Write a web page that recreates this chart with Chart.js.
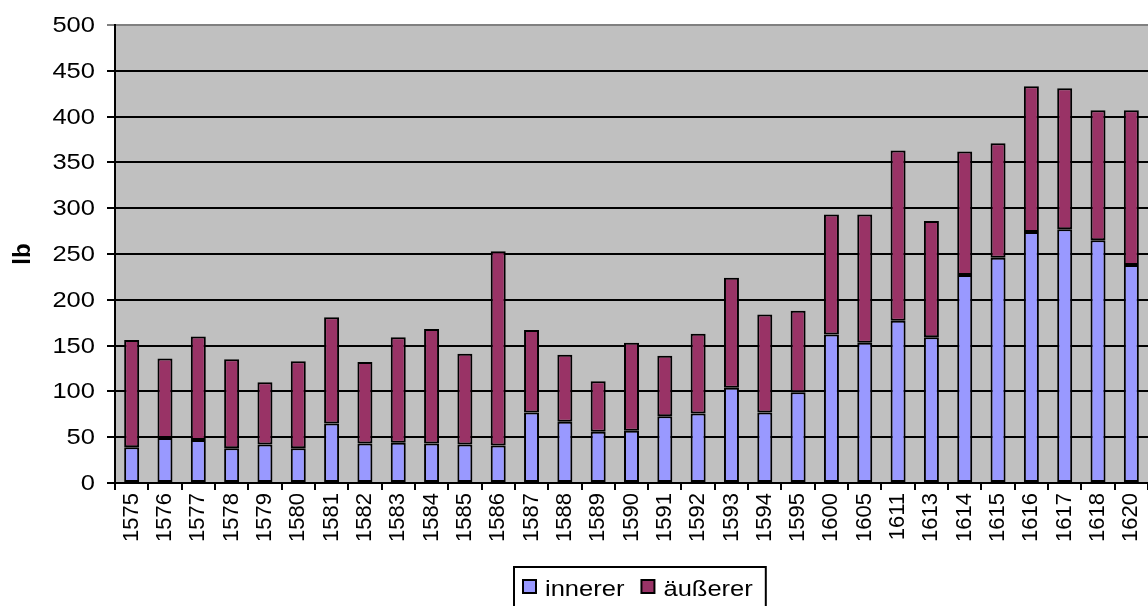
<!DOCTYPE html>
<html>
<head>
<meta charset="utf-8">
<script src="https://cdn.jsdelivr.net/npm/chart.js@4"></script>
<style>
html,body{margin:0;padding:0;background:#fff;}
#wrap{width:1148px;height:606px;position:relative;}
</style>
</head>
<body>
<div id="wrap"><canvas id="c" width="1148" height="606"></canvas></div>
<script>
const categories = ["1575","1576","1577","1578","1579","1580","1581","1582","1583","1584","1585","1586","1587","1588","1589","1590","1591","1592","1593","1594","1595","1600","1605","1611","1613","1614","1615","1616","1617","1618","1620"];
const innerer = [39,49,47,38,42,38,65,43,44,43,42,41,77,67,56,57,73,76,104,77,99,162,153,177,159,227,246,274,277,265,238];
const totals  = [156,136,160,135,110,133,181,132,159,168,141,253,167,140,111,153,139,163,224,184,188,293,293,363,286,362,371,433,431,407,407];
const aeusserer = totals.map((t, i) => t - innerer[i]);
const seriesNames = ["innerer", "äußerer"];
const yTicks = [0,50,100,150,200,250,300,350,400,450,500];

const FONT = "'Liberation Sans', Arial, sans-serif";
const STRETCH = 1.16;

function stretchedText(ctx, text, x, y, align) {
  ctx.save();
  ctx.translate(x, y);
  ctx.scale(STRETCH, 1);
  ctx.textAlign = align;
  ctx.fillText(text, 0, 0);
  ctx.restore();
}

const bgPlugin = {
  id: 'bg',
  beforeDraw(chart) {
    const {ctx, chartArea: a} = chart;
    ctx.save();
    ctx.fillStyle = '#fff';
    ctx.fillRect(0, 0, chart.width, chart.height);
    ctx.fillStyle = '#C0C0C0';
    ctx.fillRect(a.left, a.top, a.right - a.left, a.bottom - a.top);
    ctx.restore();
  },
  afterDraw(chart) {
    const {ctx, chartArea: a} = chart;
    const ys = chart.scales.y;
    ctx.save();
    ctx.font = '22px ' + FONT;
    ctx.fillStyle = '#000';
    ctx.textBaseline = 'middle';
    ys.ticks.forEach(t => {
      stretchedText(ctx, String(t.value), a.left - 20, ys.getPixelForValue(t.value) + 1, 'right');
    });
    ctx.restore();
    // legend
    ctx.save();
    ctx.font = '22px ' + FONT;
    ctx.textBaseline = 'alphabetic';
    const sq = 13, gap = 9, itemGap = 17, padL = 9, padR = 13;
    const items = chart.data.datasets.map(d => ({label: d.label, color: d.backgroundColor, w: ctx.measureText(d.label).width * STRETCH}));
    let total = padL + padR;
    items.forEach((it, i) => { total += sq + gap + it.w + (i < items.length - 1 ? itemGap : 0); });
    const cx = (a.left + a.right) / 2 + 8;
    const bx = Math.round(cx - total / 2), by = 567, bh = 44;
    ctx.lineWidth = 2;
    ctx.strokeStyle = '#000';
    ctx.fillStyle = '#fff';
    ctx.fillRect(bx, by, total, bh);
    ctx.strokeRect(bx, by, total, bh);
    let x = bx + padL;
    items.forEach(it => {
      ctx.fillStyle = it.color;
      ctx.fillRect(x, 580, sq, sq);
      ctx.strokeRect(x, 580, sq, sq);
      x += sq + gap;
      ctx.fillStyle = '#000';
      stretchedText(ctx, it.label, x, 596, 'left');
      x += it.w + itemGap;
    });
    ctx.restore();
  }
};

new Chart(document.getElementById('c'), {
  type: 'bar',
  data: {
    labels: categories,
    datasets: [
      {label: seriesNames[0], data: innerer, backgroundColor: '#9999FF', borderColor: '#000', borderWidth: 2, borderSkipped: false},
      {label: seriesNames[1], data: aeusserer, backgroundColor: '#993366', borderColor: '#000', borderWidth: 2, borderSkipped: false}
    ]
  },
  options: {
    responsive: false,
    animation: false,
    events: [],
    layout: {padding: {top: 25, left: 0, right: 0, bottom: 0}},
    plugins: {legend: {display: false}, tooltip: {enabled: false}, title: {display: false}},
    datasets: {bar: {categoryPercentage: 1.0, barPercentage: 0.45}},
    scales: {
      x: {
        stacked: true,
        afterFit(s) { s.height = 123; s.paddingLeft = 0; s.paddingRight = 0; },
        grid: {display: true, drawOnChartArea: false, drawTicks: true, tickLength: 7, color: '#000', lineWidth: 2, offset: true},
        border: {display: true, color: '#000', width: 2},
        ticks: {minRotation: 90, maxRotation: 90, autoSkip: false, padding: 3, color: '#000', font: {family: FONT, size: 22}}
      },
      y: {
        stacked: true,
        min: 0, max: 500,
        afterFit(s) { s.width = 115; s.paddingTop = 0; s.paddingBottom = 0; },
        afterBuildTicks(s) { s.ticks = yTicks.map(v => ({value: v})); },
        grid: {display: true, drawOnChartArea: true, drawTicks: true, tickLength: 8, lineWidth: 2,
               color: c => (c.tick && c.tick.value === 500) ? '#808080' : '#000'},
        border: {display: true, color: '#000', width: 2},
        ticks: {display: false},
        title: {display: true, text: 'lb', color: '#000', font: {family: FONT, size: 24, weight: 'bold'}, padding: {top: 9, bottom: 0}}
      }
    }
  },
  plugins: [bgPlugin]
});
</script>
</body>
</html>
